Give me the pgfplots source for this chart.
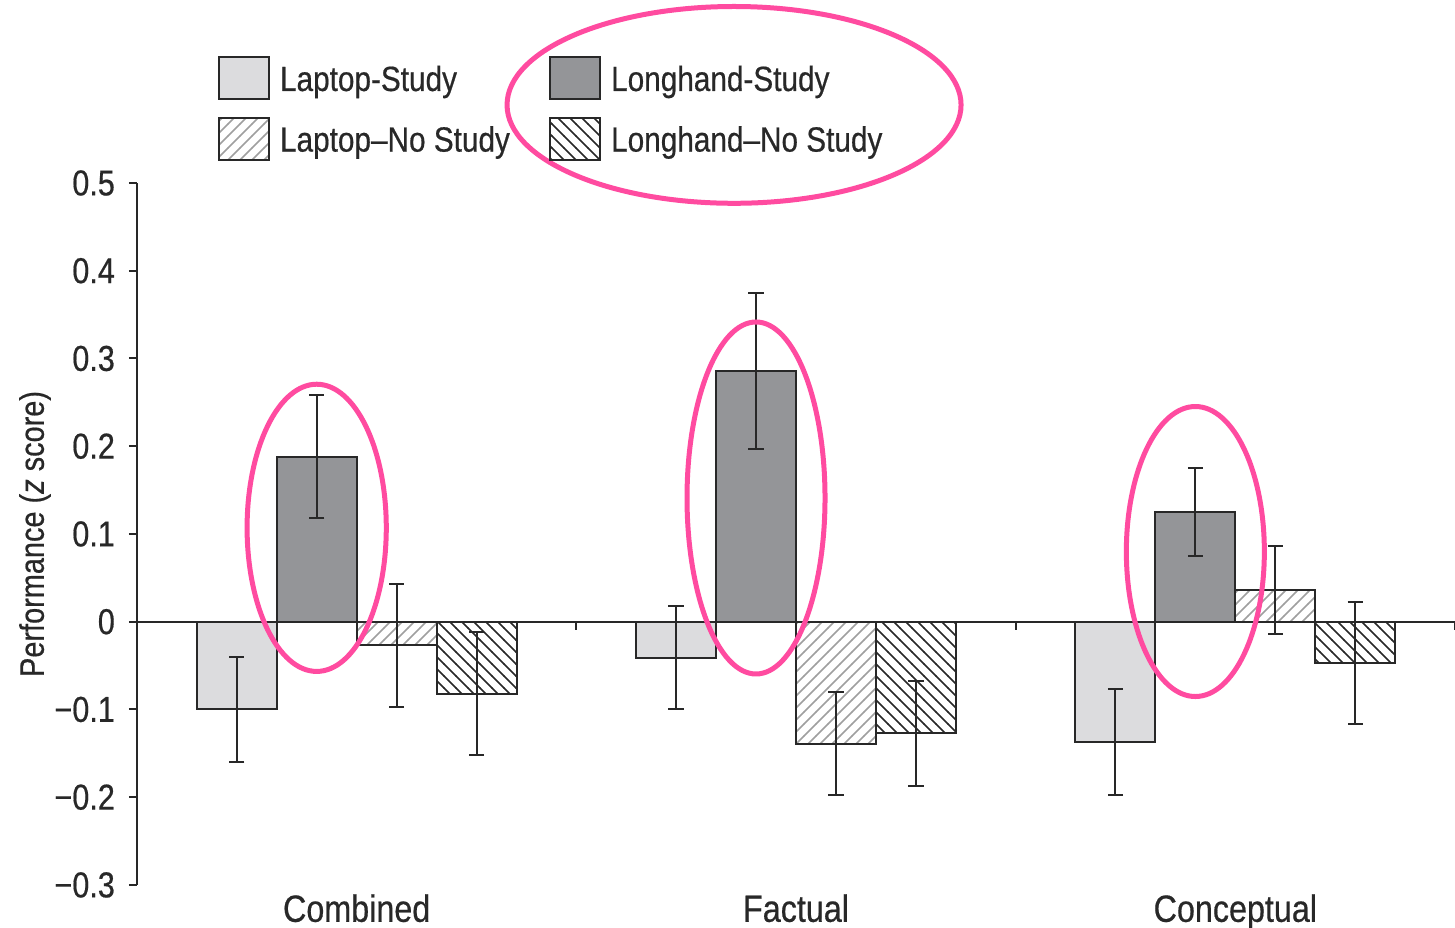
\documentclass[border=0pt]{standalone}
\usepackage{fontspec}
\setmainfont{Liberation Sans}[FakeStretch=0.85,FakeBold=0.5]
\usepackage{pgfplots}
\pgfplotsset{compat=1.18}
\usetikzlibrary{patterns}
\definecolor{lapS}{RGB}{220,220,222}
\definecolor{lonS}{RGB}{148,149,152}
\definecolor{edge}{RGB}{40,40,40}
\definecolor{hot}{RGB}{255,75,160}
\pgfplotsset{myerr/.style={error bars/.cd, y dir=both, y explicit,
    error bar style={line width=0.5pt, color=edge},
    error mark options={rotate=90, mark size=1.9pt, line width=0.5pt, color=edge}}}

\begin{document}
\begin{tikzpicture}
\begin{axis}[
  scale only axis, width=329.5pt, height=175.5pt,
  xmin=-0.5, xmax=2.5, ymin=-0.3, ymax=0.5,
  clip=false,
  axis y line*=left, axis x line*=bottom,
  x axis line style={draw=none},
  y axis line style={line width=0.5pt, color=edge},
  xtick={0,1,2}, xticklabels={Combined,Factual,Conceptual},
  x tick style={draw=none},
  ytick={-0.3,-0.2,-0.1,0,0.1,0.2,0.3,0.4,0.5},
  yticklabels={−0.3,−0.2,−0.1,0,0.1,0.2,0.3,0.4,0.5},
  tick align=outside, major tick length=2pt,
  y tick style={line width=0.5pt, color=edge},
  yticklabel style={font=\fontsize{9}{10}\selectfont, color=edge},
  xticklabel style={font=\fontsize{9.5}{11}\selectfont, color=edge, yshift=3.2pt},
  every axis y label/.style={at={(axis description cs:-0.0774,0.5)}, rotate=90, anchor=center},
  ylabel={Performance (\textit{z} score)},
  ylabel style={font=\fontsize{8.5}{10}\selectfont, color=edge},
  ybar=0pt, bar width=0.182,
  legend columns=2,
  legend image code/.code={\draw[#1] (0pt,-4.35pt) rectangle (12.5pt,6.15pt);},
  legend style={draw=none, fill=none, inner sep=0pt, outer sep=0pt,
    at={(axis description cs:0.0615,1.0)}, anchor=south west, yshift=4.85pt,
    font=\fontsize{8.75}{10}\selectfont, text=edge,
    row sep=3.5pt,
    nodes={inner sep=0pt, text height=7.5pt, text depth=3pt},
    /tikz/every odd column/.append style={column sep=2.5pt},
    /tikz/every even column/.append style={column sep=9.8pt}},
  legend cell align=left,
]
\coordinate (bl) at (rel axis cs:0,0);
\coordinate (tr) at (rel axis cs:1,1);

\addplot[fill=lapS, draw=edge, line width=0.5pt, bar shift=-0.273, myerr] coordinates {
  (0,-0.100) +- (0,0.060)
  (1,-0.041) +- (0,0.059)
  (2,-0.137) +- (0,0.060)
};
\addlegendentry{Laptop-Study}

\addplot[fill=lonS, draw=edge, line width=0.5pt, bar shift=-0.091, myerr] coordinates {
  (0,0.188) +- (0,0.070)
  (1,0.286) +- (0,0.089)
  (2,0.125) +- (0,0.050)
};
\addlegendentry{Longhand-Study}

\addplot[pattern=north east lines, pattern color=gray!75, draw=edge, line width=0.5pt, bar shift=0.091, myerr] coordinates {
  (0,-0.027) +- (0,0.070)
  (1,-0.139) +- (0,0.059)
  (2,0.036) +- (0,0.050)
};
\addlegendentry{Laptop–No Study}

\addplot[pattern=north west lines, pattern color=edge, draw=edge, line width=0.5pt, bar shift=0.273, myerr] coordinates {
  (0,-0.082) +- (0,0.070)
  (1,-0.127) +- (0,0.060)
  (2,-0.047) +- (0,0.070)
};
\addlegendentry{Longhand–No Study}

% zero line with group separators
\draw[edge, line width=0.5pt] (axis cs:-0.5,0) -- (axis cs:2.5,0);
\draw[edge, line width=0.5pt] (axis cs:0.5,0) -- ([yshift=-2pt]axis cs:0.5,0);
\draw[edge, line width=0.5pt] (axis cs:1.5,0) -- ([yshift=-2pt]axis cs:1.5,0);
\draw[edge, line width=0.5pt] (axis cs:2.5,0) -- ([yshift=-2pt]axis cs:2.5,0);

% highlight ellipses
\draw[hot, line width=1.25pt] (axis cs:0.859,0.589) ellipse [x radius=56.75pt, y radius=24.6pt];
\draw[hot, line width=1.25pt] (axis cs:-0.091,0.107) ellipse [x radius=17.4pt, y radius=35.9pt];
\draw[hot, line width=1.25pt] (axis cs:0.909,0.141) ellipse [x radius=17.25pt, y radius=44pt];
\draw[hot, line width=1.25pt] (axis cs:1.909,0.080) ellipse [x radius=17.25pt, y radius=36.25pt];
\end{axis}
\pgfresetboundingbox
\path[use as bounding box] ([xshift=-34.25pt,yshift=-10.75pt]bl) rectangle ([yshift=45.75pt]tr);
\end{tikzpicture}
\end{document}
